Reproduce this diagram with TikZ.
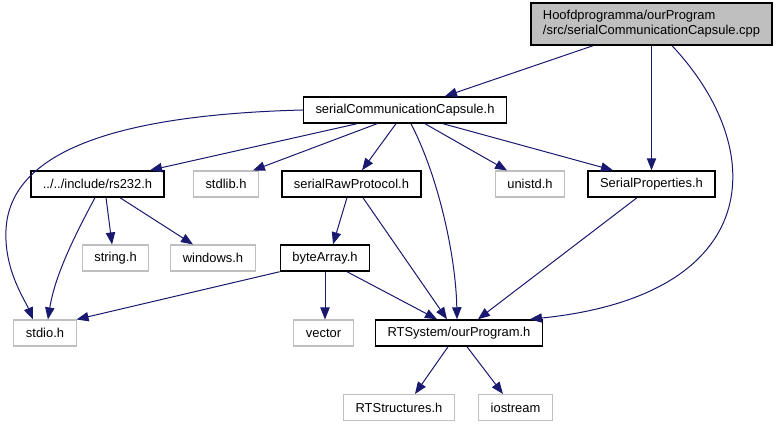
\documentclass[tikz,border=0pt]{standalone}
\usepackage{fontspec}
\setmainfont{Liberation Sans}
\usetikzlibrary{arrows.meta}
\definecolor{edgeblue}{HTML}{191970}
\definecolor{boxgray}{HTML}{BFBFBF}

\begin{document}
\begin{tikzpicture}[
x=0.75pt,y=-0.75pt,
font=\fontsize{9.7}{11.2}\selectfont,
file/.style={rectangle,draw=black,line width=1.1pt,inner xsep=9pt,inner ysep=0pt,minimum height=19.5pt},
sysfile/.style={file,draw=boxgray,line width=0.8pt},
arr/.style={-{Triangle[length=9pt,width=7pt]},draw=edgeblue,line width=0.75pt}
]
\useasboundingbox[fill=white] (0,0) rectangle (778,427);

% files
\node[file,fill=boxgray,align=left,minimum width=180.75pt,minimum height=31.5pt] (main) at (651.5,24) {Hoofdprogramma/ourProgram\\/src/serialCommunicationCapsule.cpp};
\node[file] (capsule) at (405,110) {serialCommunicationCapsule.h};
\node[file] (rs232) at (97.5,184) {../../include/rs232.h};
\node[sysfile] (stdlib) at (226,184) {stdlib.h};
\node[file] (rawproto) at (351.5,184) {serialRawProtocol.h};
\node[sysfile] (unistd) at (530,184) {unistd.h};
\node[file] (serprops) at (651.5,184) {SerialProperties.h};
\node[sysfile] (string) at (115.5,258) {string.h};
\node[sysfile] (windows) at (213,258) {windows.h};
\node[file] (bytearr) at (325,258) {byteArray.h};
\node[sysfile] (stdio) at (45,333) {stdio.h};
\node[sysfile] (vector) at (323.5,333) {vector};
\node[file] (rtsys) at (459,333) {RTSystem/ourProgram.h};
\node[sysfile] (rtstruct) at (399,407.5) {RTStructures.h};
\node[sysfile] (iostream) at (515.5,407.5) {iostream};

% includes
\draw[arr] ([xshift=-43.9pt]main.south) -- ([xshift=30pt]capsule.north);
\draw[arr] (main.south) -- (serprops.north);
\draw[arr] ([xshift=15.4pt]main.south) .. controls (770,150) and (765,295) .. ([xshift=53.2pt]rtsys.north);
\draw[arr] (capsule.west) .. controls (150,114) and (10,140) .. (6,230) .. controls (4,270) and (25,300) .. ([xshift=-9pt]stdio.north);
\draw[arr] ([xshift=-36pt]capsule.south) -- ([xshift=39.4pt]rs232.north);
\draw[arr] ([xshift=-21pt]capsule.south) -- ([xshift=20.2pt]stdlib.north);
\draw[arr] ([xshift=-6.8pt]capsule.south) -- ([xshift=7.9pt]rawproto.north);
\draw[arr] ([xshift=4.5pt]capsule.south) .. controls (440,180) and (456,260) .. ([xshift=-1.5pt]rtsys.north);
\draw[arr] ([xshift=15pt]capsule.south) -- ([xshift=-17.2pt]unistd.north);
\draw[arr] ([xshift=28.5pt]capsule.south) -- ([xshift=-28.9pt]serprops.north);
\draw[arr] ([xshift=6.4pt]rs232.south) -- ([xshift=-2.6pt]string.north);
\draw[arr] ([xshift=16.9pt]rs232.south) -- ([xshift=-15pt]windows.north);
\draw[arr] ([xshift=-1.9pt]rs232.south) .. controls (75,235) and (55,275) .. ([xshift=2.2pt]stdio.north);
\draw[arr] ([xshift=-3.4pt]rawproto.south) -- ([xshift=6pt]bytearr.north);
\draw[arr] ([xshift=8.6pt]rawproto.south) -- ([xshift=-9pt]rtsys.north);
\draw[arr] (bytearr.south west) -- (stdio.north east);
\draw[arr] (bytearr.south) -- (bytearr.south |- vector.north);
\draw[arr] ([xshift=16.5pt]bytearr.south) -- ([xshift=-16.5pt]rtsys.north);
\draw[arr] ([xshift=-10.9pt]serprops.south) -- ([xshift=14.2pt]rtsys.north);
\draw[arr] ([xshift=-8.2pt]rtsys.south) -- ([xshift=12pt]rtstruct.north);
\draw[arr] ([xshift=6pt]rtsys.south) -- ([xshift=-9.4pt]iostream.north);
\end{tikzpicture}
\end{document}
